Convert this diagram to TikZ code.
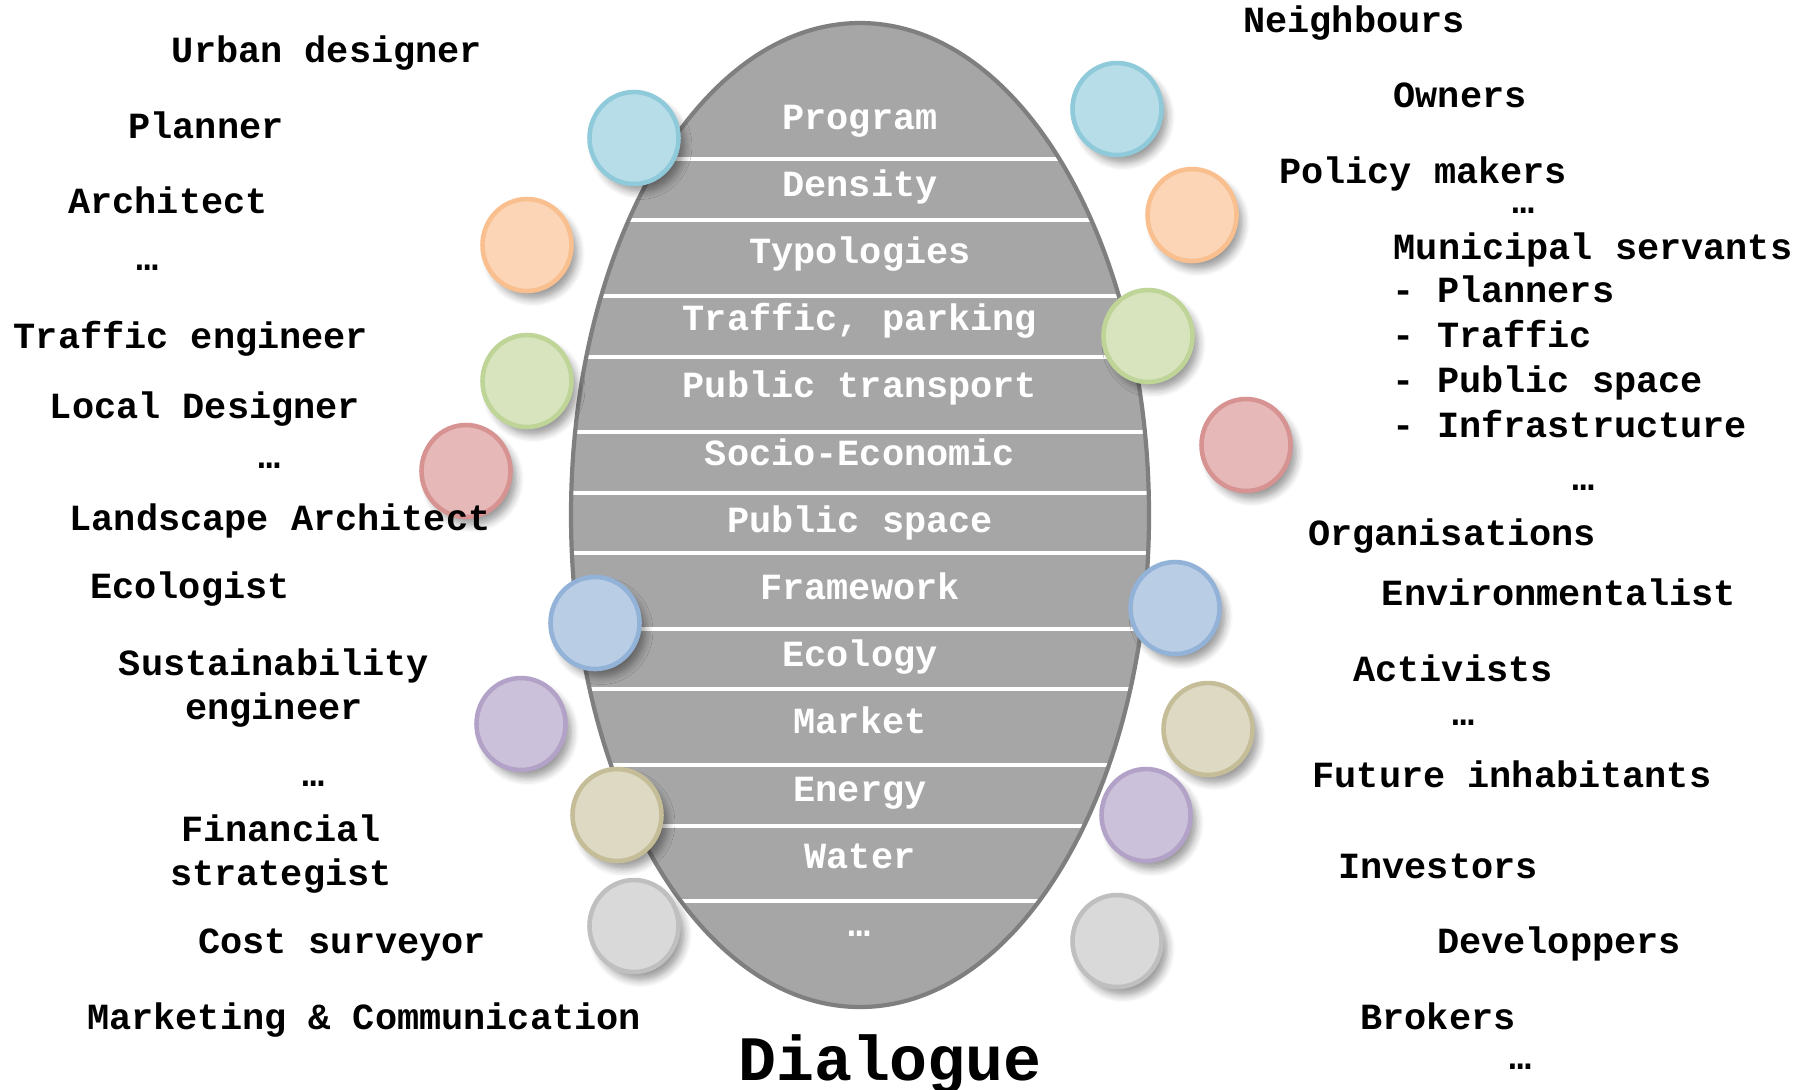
\documentclass[tikz,border=0pt]{standalone}
\usepackage{fontspec}
\setmainfont{Liberation Mono}
\usetikzlibrary{shapes.geometric,shadows.blur}

\definecolor{bowlfill}{HTML}{A6A6A6}
\definecolor{bowledge}{HTML}{7F7F7F}
\definecolor{aquaF}{HTML}{B7DDE8}   \definecolor{aquaD}{HTML}{8FCADB}
\definecolor{peachF}{HTML}{FBD5B5}  \definecolor{peachD}{HTML}{F9BF8F}
\definecolor{leafF}{HTML}{D7E4BD}   \definecolor{leafD}{HTML}{BFD497}
\definecolor{roseF}{HTML}{E6B9B8}   \definecolor{roseD}{HTML}{D69391}
\definecolor{skyF}{HTML}{B9CDE5}    \definecolor{skyD}{HTML}{93B2D8}
\definecolor{lilacF}{HTML}{CCC1DA}  \definecolor{lilacD}{HTML}{B3A2C7}
\definecolor{sandF}{HTML}{DDD9C3}   \definecolor{sandD}{HTML}{C4BD97}
\definecolor{ashF}{HTML}{D9D9D9}    \definecolor{ashD}{HTML}{BFBFBF}

\begin{document}
\begin{tikzpicture}[x=0.1mm, y=-0.1mm,
    actor/.style={font=\fontsize{10.5}{12.6}\selectfont\bfseries, inner sep=0pt, anchor=base, align=center},
    theme/.style={actor, text=white},
    disc/.style 2 args={ellipse, minimum width=8.9mm, minimum height=9.2mm, inner sep=0pt,
      line width=1.3pt, fill=#1, draw=#2,
      blur shadow={shadow xshift=0.6mm, shadow yshift=-0.8mm, shadow blur steps=6, shadow opacity=40}},
    band/.style={white, line width=0.9pt}
  ]
  \useasboundingbox (0,0) rectangle (1806,1089);

  % the bowl of themes
  \coordinate (mid) at (860,515);
  \fill[bowlfill] (mid) ellipse [x radius=28.9mm, y radius=49.2mm];
  \begin{scope}
    \clip (mid) ellipse [x radius=28.9mm, y radius=49.2mm];
    \foreach \y in {159,220,296,357,432,493,553,629,689,765,826,901}
      \draw[band] (560,\y) -- (1160,\y);
  \end{scope}
  \draw[bowledge, line width=1.2pt] (mid) ellipse [x radius=28.9mm, y radius=49.2mm];

  \node[theme] (program)   at (860,129) {Program};
  \node[theme] (density)   at (860,196) {Density};
  \node[theme] (typology)  at (860,263) {Typologies};
  \node[theme] (traffic)   at (860,330) {Traffic, parking};
  \node[theme] (transport) at (860,397) {Public transport};
  \node[theme] (socio)     at (860,465) {Socio-Economic};
  \node[theme] (pubspace)  at (860,532) {Public space};
  \node[theme] (frame)     at (860,599) {Framework};
  \node[theme] (ecology)   at (860,666) {Ecology};
  \node[theme] (market)    at (860,733) {Market};
  \node[theme] (energy)    at (860,801) {Energy};
  \node[theme] (water)     at (860,868) {Water};
  \node[theme] (moretheme) at (860,936) {…};

  % discs, left
  \node[disc={aquaF}{aquaD}]   (lc1) at (634,138) {};
  \node[disc={peachF}{peachD}] (lc2) at (527,245) {};
  \node[disc={leafF}{leafD}]   (lc3) at (527,381) {};
  \node[disc={roseF}{roseD}]   (lc4) at (466,471) {};
  \node[disc={skyF}{skyD}]     (lc5) at (595,623) {};
  \node[disc={lilacF}{lilacD}] (lc6) at (521,724) {};
  \node[disc={sandF}{sandD}]   (lc7) at (617,815) {};
  \node[disc={ashF}{ashD}]     (lc8) at (634,926) {};

  % discs, right
  \node[disc={aquaF}{aquaD}]   (rc1) at (1117,109) {};
  \node[disc={peachF}{peachD}] (rc2) at (1192,215) {};
  \node[disc={leafF}{leafD}]   (rc3) at (1148,336) {};
  \node[disc={roseF}{roseD}]   (rc4) at (1246,445) {};
  \node[disc={skyF}{skyD}]     (rc5) at (1175,608) {};
  \node[disc={sandF}{sandD}]   (rc6) at (1208,729) {};
  \node[disc={lilacF}{lilacD}] (rc7) at (1146,815) {};
  \node[disc={ashF}{ashD}]     (rc8) at (1117,941) {};

  % professionals
  \node[actor] (urban)     at (327,62)   {Urban designer};
  \node[actor] (planner)   at (206,138)  {Planner};
  \node[actor] (architect) at (168,213)  {Architect};
  \node[actor] (moreL1)    at (148,270)  {…};
  \node[actor] (trafeng)   at (191,348)  {Traffic engineer};
  \node[actor] (local)     at (205,418)  {Local Designer};
  \node[actor] (moreL2)    at (270,468)  {…};
  \node[actor] (landscape) at (280,530)  {Landscape Architect};
  \node[actor] (ecologist) at (190,598)  {Ecologist};
  \node[actor, anchor=center] (sustain) at (274,688) {Sustainability\\engineer};
  \node[actor] (moreL3)    at (314,786)  {…};
  \node[actor, anchor=center] (finance) at (281,854) {Financial\\strategist};
  \node[actor] (cost)      at (342,953)  {Cost surveyor};
  \node[actor] (marketing) at (364,1029) {Marketing \& Communication};

  % stakeholders
  \node[actor] (neighbours) at (1354,32)  {Neighbours};
  \node[actor] (owners)     at (1460,107) {Owners};
  \node[actor] (policy)     at (1423,183) {Policy makers};
  \node[actor] (moreR1)     at (1524,213) {…};
  \node[actor] (municipal)  at (1593,259) {Municipal servants};
  \node[actor, anchor=base west] (muniA) at (1392,302) {- Planners};
  \node[actor, anchor=base west] (muniB) at (1392,347) {- Traffic};
  \node[actor, anchor=base west] (muniC) at (1392,392) {- Public space};
  \node[actor, anchor=base west] (muniD) at (1392,437) {- Infrastructure};
  \node[actor] (moreR2)     at (1584,490) {…};
  \node[actor] (organis)    at (1452,545) {Organisations};
  \node[actor] (environ)    at (1559,605) {Environmentalist};
  \node[actor] (activists)  at (1453,681) {Activists};
  \node[actor] (moreR3)     at (1464,725) {…};
  \node[actor] (future)     at (1512,787) {Future inhabitants};
  \node[actor] (investors)  at (1438,878) {Investors};
  \node[actor] (developers) at (1559,953) {Developpers};
  \node[actor] (brokers)    at (1438,1029) {Brokers};
  \node[actor] (moreR4)     at (1521,1069) {…};

  \node[actor, font=\fontsize{18}{21}\selectfont\bfseries] (dialogue) at (890,1080) {Dialogue};
\end{tikzpicture}
\end{document}
